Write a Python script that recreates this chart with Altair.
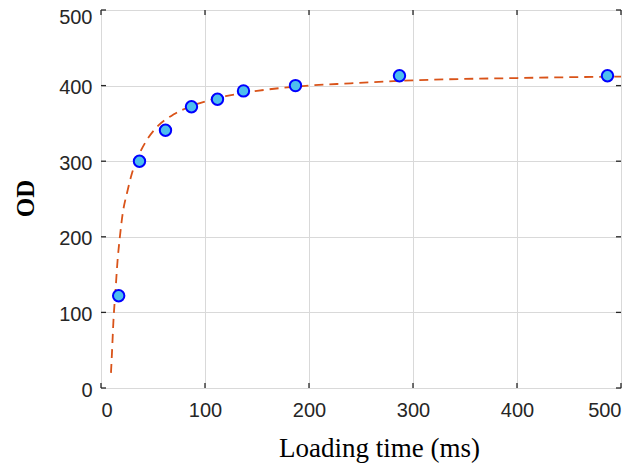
import altair as alt
import pandas as pd

# measured points
pt_x = [17, 37, 62, 87, 112, 137, 187, 287, 487]
pt_y = [122, 300, 341, 372, 382, 393, 400, 413, 413]

# fitted curve
fit_x = [9.6, 10.5, 12, 14, 16, 18, 21, 25, 30, 37, 45, 55, 70, 85, 100, 120, 150, 190, 240, 300, 400, 500]
fit_y = [20, 45, 90, 130, 170, 198, 232, 258, 285, 310, 330, 347, 362, 372, 379, 386, 393, 399, 403, 407, 410, 412]

ticks = [0, 100, 200, 300, 400, 500]

W, H = 520, 378
FRAME = "#262626"

pts = pd.DataFrame({"t": pt_x, "od": pt_y})
fit = pd.DataFrame({"t": fit_x, "od": fit_y})
tk = pd.DataFrame({"v": ticks})

xs = alt.Scale(domain=[0, 500], nice=False, zero=False)
ys = alt.Scale(domain=[0, 500], nice=False, zero=False)

lab = dict(labelFont="Liberation Sans", labelFontSize=20, labelColor=FRAME,
           gridColor="#d9d9d9", gridWidth=1, gridOpacity=1, zindex=0)

xax = alt.Axis(values=ticks, title="Loading time (ms)", grid=True, domain=False, ticks=False,
               labelPadding=12, titleX=278, titleY=68, titleBaseline="alphabetic",
               titleFont="Liberation Serif", titleFontSize=27, titleFontWeight="normal",
               titleColor="black", **lab)
yax = alt.Axis(values=ticks, title="OD", grid=True, domain=False, ticks=False,
               labelPadding=9, labelBaseline="middle",
               labelOffset={"condition": {"test": "datum.value === 500", "value": 7}, "value": 2},
               titleX=-68, titleY=188, titleAngle=270, titleBaseline="alphabetic",
               titleFont="Liberation Serif", titleFontSize=25, titleFontWeight="bold",
               titleColor="black", **lab)

curve = alt.Chart(fit).mark_line(color="#D95319", strokeWidth=1.8, strokeDash=[9, 6],
                                 interpolate="monotone").encode(
    x=alt.X("t:Q", scale=xs, axis=xax),
    y=alt.Y("od:Q", scale=ys, axis=yax),
)

dots = alt.Chart(pts).mark_point(shape="circle", filled=True, fill="#4DBEEE", stroke="#0000FF",
                                 strokeWidth=2, size=130, opacity=1).encode(
    x=alt.X("t:Q", scale=xs),
    y=alt.Y("od:Q", scale=ys),
)

tick_style = dict(color=FRAME, strokeWidth=1.3)
bt = alt.Chart(tk).mark_rule(**tick_style).encode(x=alt.X("v:Q", scale=xs), y=alt.value(H), y2=alt.value(H - 5))
tt = alt.Chart(tk).mark_rule(**tick_style).encode(x=alt.X("v:Q", scale=xs), y=alt.value(0), y2=alt.value(5))
lt = alt.Chart(tk).mark_rule(**tick_style).encode(y=alt.Y("v:Q", scale=ys), x=alt.value(0), x2=alt.value(5))
rt = alt.Chart(tk).mark_rule(**tick_style).encode(y=alt.Y("v:Q", scale=ys), x=alt.value(W), x2=alt.value(W - 5))

chart = alt.layer(curve, bt, tt, lt, rt, dots).properties(
    width=W, height=H,
    autosize=alt.AutoSizeParams(type="none"),
    padding={"left": 93, "top": 2, "right": 9, "bottom": 77},
).configure_view(
    stroke=FRAME, strokeWidth=1.5
).configure(background="white")

chart.save("out.html", embed_options={"renderer": "svg", "actions": False})
